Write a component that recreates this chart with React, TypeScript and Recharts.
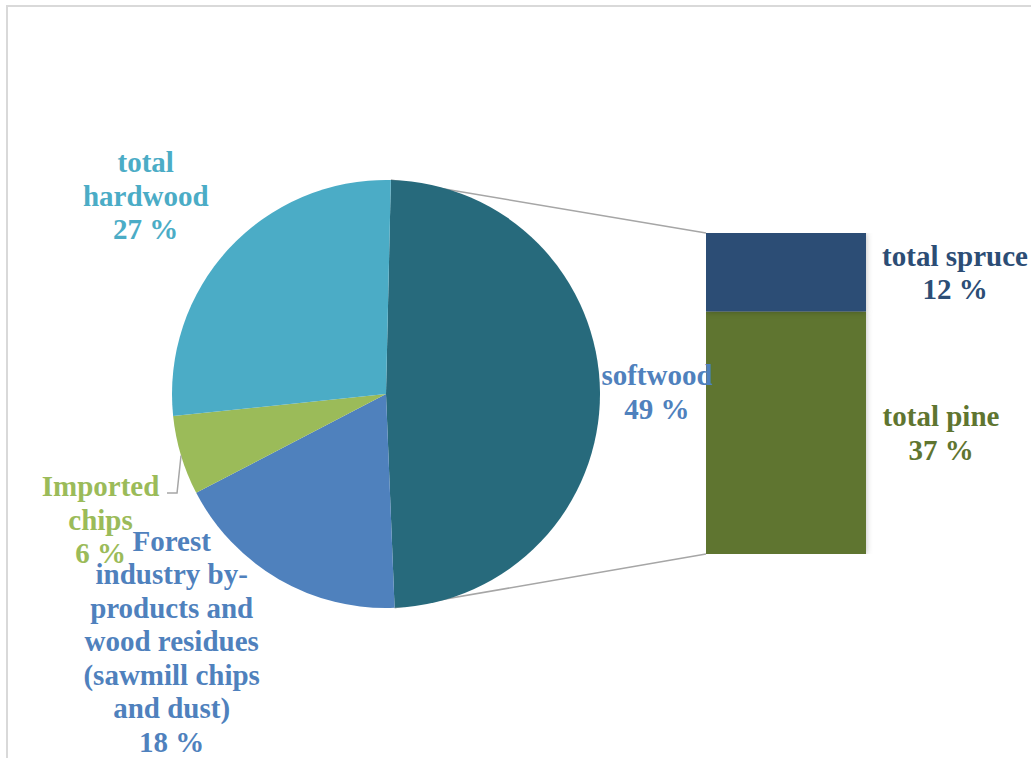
import { Bar, BarChart, Cell, LabelList, Pie, PieChart, XAxis, YAxis } from "recharts"

const pieNames = [
  "softwood",
  "Forest industry by-products and wood residues (sawmill chips and dust)",
  "Imported chips",
  "total hardwood",
]
const pieValues = [49, 18, 6, 27]
const pieColors = ["#276A7C", "#4F81BD", "#9BBB59", "#4BACC6"]
const pieLabelColors = ["#4F81BD", "#4F81BD", "#9BBB59", "#4BACC6"]
const pieLabelLines = [
  ["softwood"],
  ["Forest", "industry by-", "products and", "wood residues", "(sawmill chips", "and dust)"],
  ["Imported", "chips"],
  ["total", "hardwood"],
]

const barNames = ["total pine", "total spruce"]
const barKeys = ["pine", "spruce"]
const barValues = [37, 12]
const barColors = ["#5F7530", "#2C4D75"]

const pieData = pieNames.map((name, i) => ({ name, value: pieValues[i] }))
const barRow: Record<string, string | number> = { name: "softwood" }
barKeys.forEach((k, i) => (barRow[k] = barValues[i]))
const barData = [barRow]

// layout
const W = 1031
const H = 758
const CX = 386
const CY = 394
const R = 214
const START = 88.7
const BAR_LEFT = 706
const BAR_TOP = 233
const BAR_W = 160
const BAR_H = 321
const FONT = "'Liberation Serif', 'Times New Roman', serif"
const FS = 29
const LH = 33.5
const RAD = Math.PI / 180

// label centre offsets from the slice's outer mid point
const labelOffsets = [
  [57, 0],
  [-107, 62],
  [-80.5, 64.5],
  [-83, -53],
]
// label centres relative to the bar's right edge
const barLabelDx = [75, 89]

const polar = (angle: number, r: number) => ({
  x: CX + r * Math.cos(-angle * RAD),
  y: CY + r * Math.sin(-angle * RAD),
})

function MultiLine({ x, y, lines, color }: { x: number; y: number; lines: string[]; color: string }) {
  const top = y - ((lines.length - 1) * LH) / 2
  return (
    <text
      x={x}
      y={top}
      textAnchor="middle"
      dominantBaseline="central"
      fill={color}
      fontFamily={FONT}
      fontSize={FS}
      fontWeight="bold"
    >
      {lines.map((l, i) => (
        <tspan key={i} x={x} dy={i === 0 ? 0 : LH}>
          {l}
        </tspan>
      ))}
    </text>
  )
}

const renderPieLabel = (props: any) => {
  const { cx, cy, midAngle, outerRadius, index } = props
  const ax = cx + outerRadius * Math.cos(-midAngle * RAD)
  const ay = cy + outerRadius * Math.sin(-midAngle * RAD)
  const [dx, dy] = labelOffsets[index]
  const lines = [...pieLabelLines[index], `${pieValues[index]} %`]
  return (
    <g key={`pl-${index}`}>
      {index === 2 && (
        <polyline
          points={`${ax},${ay} ${ax - 4},${ay + 37.5} ${ax - 14},${ay + 37.5}`}
          fill="none"
          stroke="#A6A6A6"
          strokeWidth={1.5}
        />
      )}
      <MultiLine x={ax + dx} y={ay + dy} lines={lines} color={pieLabelColors[index]} />
    </g>
  )
}

const makeBarLabel = (i: number) => (props: any) => {
  const { x, y, width, height } = props
  return (
    <MultiLine
      x={x + width + barLabelDx[i]}
      y={y + height / 2}
      lines={[barNames[i], `${barValues[i]} %`]}
      color={barColors[i]}
    />
  )
}

export default function App() {
  const p1 = polar(START, R)
  const p2 = polar(START - (pieValues[0] / 100) * 360, R)
  return (
    <div style={{ position: "fixed", inset: 0, overflow: "hidden", background: "#fff" }}>
      <style>{`
        .recharts-pie-sectors, .recharts-bar-rectangles { filter: drop-shadow(0 0 3px rgba(0,0,0,0.28)); }
      `}</style>
      <div
        style={{
          position: "absolute",
          left: 6,
          top: 5,
          width: 1100,
          height: 900,
          border: "2px solid #D9D9D9",
        }}
      />
      <svg width={W} height={H} style={{ position: "absolute", left: 0, top: 0 }}>
        <line x1={p1.x} y1={p1.y} x2={BAR_LEFT} y2={BAR_TOP} stroke="#A6A6A6" strokeWidth={1.5} />
        <line x1={p2.x} y1={p2.y} x2={BAR_LEFT} y2={BAR_TOP + BAR_H} stroke="#A6A6A6" strokeWidth={1.5} />
      </svg>
      <div style={{ position: "absolute", left: BAR_LEFT, top: BAR_TOP }}>
        <BarChart
          width={BAR_W + 200}
          height={BAR_H}
          data={barData}
          margin={{ top: 0, right: 200, bottom: 0, left: 0 }}
          barCategoryGap={0}
          style={{ overflow: "visible" }}
        >
          <XAxis dataKey="name" hide />
          <YAxis hide domain={[0, barValues[0] + barValues[1]]} />
          {barKeys.map((k, i) => (
            <Bar key={k} dataKey={k} stackId="a" fill={barColors[i]} isAnimationActive={false}>
              <LabelList dataKey={k} content={makeBarLabel(i)} />
            </Bar>
          ))}
        </BarChart>
      </div>
      <div style={{ position: "absolute", left: 0, top: 0 }}>
        <PieChart width={W} height={H} margin={{ top: 0, right: 0, bottom: 0, left: 0 }}>
          <Pie
            data={pieData}
            dataKey="value"
            nameKey="name"
            cx={CX}
            cy={CY}
            outerRadius={R}
            startAngle={START}
            endAngle={START - 360}
            stroke="none"
            label={renderPieLabel}
            labelLine={false}
            isAnimationActive={false}
          >
            {pieData.map((d, i) => (
              <Cell key={d.name} fill={pieColors[i]} />
            ))}
          </Pie>
        </PieChart>
      </div>
    </div>
  )
}
